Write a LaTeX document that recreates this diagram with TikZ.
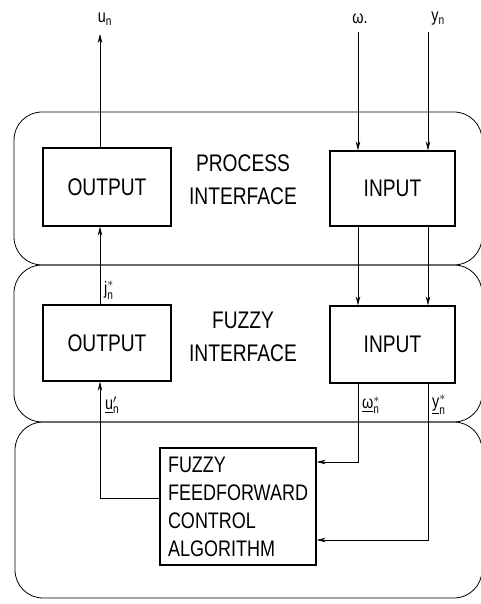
\documentclass[tikz,border=0pt]{standalone}
\usepackage{amsmath}
\usepackage{fontspec}
\setmainfont{Liberation Sans}[FakeStretch=0.8]
\usetikzlibrary{arrows.meta,calc}
\tikzset{
  region/.style={draw, line width=0.8pt, rounded corners=28pt},
  blockbox/.style={draw, line width=1.3pt, inner sep=0pt, font=\fontsize{24}{28}\selectfont},
  conn/.style={line width=0.6pt},
  arr/.style={conn, -{Stealth[length=9pt,width=4.5pt]}},
  lbl/.style={inner sep=0pt, font=\fontsize{18}{20}\selectfont},
  title/.style={align=center, inner sep=0pt, font=\fontsize{24}{33}\selectfont}
}
\begin{document}
\begin{tikzpicture}[x=1pt,y=-1pt]
\useasboundingbox (0,0) rectangle (481,604);
% regions
\draw[region] (14,112) rectangle (482,265);
\draw[region] (14,265) rectangle (482,422);
\draw[region] (15,422) rectangle (482,598);
% blocks
\node[blockbox, minimum width=128pt, minimum height=78pt] (pout) at (107,187) {OUTPUT};
\node[blockbox, minimum width=125pt, minimum height=75pt] (pin) at (392.5,188.5) {INPUT};
\node[blockbox, minimum width=128pt, minimum height=76pt] (fout) at (107,343) {OUTPUT};
\node[blockbox, minimum width=125pt, minimum height=77pt] (fin) at (392.5,344.5) {INPUT};
\node[blockbox, minimum width=156pt, minimum height=117pt, align=left, text width=140pt,
      font=\fontsize{22.5}{28}\selectfont] (alg) at (238,506.5) {FUZZY\\FEEDFORWARD\\CONTROL\\ALGORITHM};
% titles
\node[title] (ptitle) at (243,180) {PROCESS\\INTERFACE};
\node[title] (ftitle) at (243,337) {FUZZY\\INTERFACE};
% helper coordinates
\coordinate (xu) at (100,0);
\coordinate (xw) at (358,0);
\coordinate (xy) at (428,0);
\coordinate (uend) at (100,34);
\coordinate (wtop) at (358,32);
\coordinate (ytop) at (428,32);
% output path
\draw[arr] (alg.west |- 0,498) -| (xu |- fout.south);
\draw[arr] (xu |- fout.north) -- (xu |- pout.south);
\draw[arr] (xu |- pout.north) -- (uend);
% omega path
\draw[arr] (wtop) -- (xw |- pin.north);
\draw[arr] (xw |- pin.south) -- (xw |- fin.north);
\draw[arr] (xw |- fin.south) |- (alg.east |- 0,462);
% y path
\draw[arr] (ytop) -- (xy |- pin.north);
\draw[arr] (xy |- pin.south) -- (xy |- fin.north);
\draw[arr] (xy |- fin.south) |- (alg.east |- 0,540);
% labels
\node[lbl] (lu) at (105,19) {u\textsubscript{n}};
\node[lbl] (lw) at (360,19) {ω.};
\node[lbl] (ly) at (438,19) {y\textsubscript{n}};
\node[lbl, anchor=west] (lj) at (104,290) {$\text{j}^{*}_{\text{n}}$};
\node[lbl, anchor=west] (lu2) at (105,405) {$\underline{\text{u}}^{\prime}_{\text{n}}$};
\node[lbl, anchor=west] (lw2) at (362,405) {$\underline{\text{ω}}^{*}_{\text{n}}$};
\node[lbl, anchor=west] (ly2) at (432,405) {$\underline{\text{y}}^{*}_{\text{n}}$};
\end{tikzpicture}
\end{document}
